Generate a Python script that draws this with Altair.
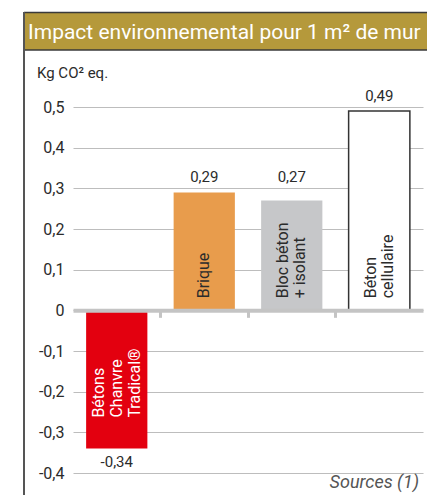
import altair as alt
import pandas as pd

# ---- data ----
names = ["Bétons Chanvre Tradical®", "Brique", "Bloc béton + isolant", "Béton cellulaire"]
label_lines = ["Bétons\nChanvre\nTradical®", "Brique", "Bloc béton\n+ isolant", "Béton\ncellulaire"]
values = [-0.34, 0.29, 0.27, 0.49]
y_ticks = [-0.4, -0.3, -0.2, -0.1, 0, 0.1, 0.2, 0.3, 0.4, 0.5]
title_text = "Impact environnemental pour 1 m² de mur"
unit_text = "Kg CO² eq."
source_text = "Sources (1)"

# ---- styles ----
bar_colors = ["#e3000f", "#e89c4c", "#c6c7c9", "#ffffff"]
FONT = "Roboto"
TXT = "#2b2b2b"
W, H = 350, 366
PAD = {"left": 65, "top": 99, "right": 4, "bottom": 22}

df = pd.DataFrame({"name": names, "label": label_lines, "value": values})

x_enc = alt.X(
    "name:N",
    sort=names,
    scale=alt.Scale(domain=names, paddingInner=0.3, paddingOuter=0.15),
    axis=alt.Axis(
        title=None, labels=False, values=names[1:], bandPosition=-0.214,
        tickSize=7, tickWidth=3, tickColor="#c4c4c4",
        domainColor="#c4c4c4", domainWidth=4, offset=-(H * 0.4 / 0.9), zindex=1,
    ),
)
y_scale = alt.Scale(domain=[-0.4, 0.5], nice=False, zero=False)
xn = alt.X("name:N", sort=names)

base = alt.Chart(df).transform_calculate(
    nlines="length(split(datum.label, '\\n'))"
)

bars = base.mark_bar().encode(
    x=x_enc,
    y=alt.Y(
        "value:Q", scale=y_scale,
        axis=alt.Axis(
            title=None, values=y_ticks, ticks=False, domain=False,
            labelExpr="datum.value == 0 ? '0' : replace(replace(format(datum.value, '.1f'), '.', ','), '−', '-')",
            gridColor="#bdbdbd", gridWidth=1, labelPadding=9,
            labelFontSize=16, labelColor=TXT, labelFont=FONT, zindex=0,
        ),
    ),
    color=alt.Color("name:N", scale=alt.Scale(domain=names, range=bar_colors), legend=None),
    stroke=alt.value("#333333"),
    strokeWidth=alt.condition(alt.datum.name == names[3], alt.value(1.5), alt.value(0)),
)

value_labels = base.transform_calculate(
    lab="replace(replace(format(datum.value, '.2f'), '.', ','), '−', '-')",
    ly="datum.value >= 0 ? ceil(datum.value * 10) / 10 : floor(datum.value * 10) / 10",
).mark_text(baseline="bottom", dy=-3, fontSize=15, color=TXT, font=FONT).encode(
    x=xn, y=alt.Y("ly:Q", scale=y_scale), text="lab:N",
)

LH = 17
cat_layers = []
for n in (1, 2):
    cat_layers.append(
        base.transform_filter(f"datum.value >= 0 && datum.nlines == {n}").mark_text(
            angle=270, align="left", baseline="middle", dx=12, dy=-(n - 1) * LH / 2,
            lineBreak="\n", lineHeight=LH, fontSize=16, color=TXT, font=FONT,
        ).encode(x=xn, y=alt.datum(0), text="label:N")
    )
cat_layers.append(
    base.transform_filter("datum.value < 0").mark_text(
        angle=270, align="left", baseline="middle", dx=31, dy=-18,
        lineBreak="\n", lineHeight=18, fontSize=16, color="#ffffff", font=FONT,
    ).encode(x=xn, y=alt.Y("value:Q", scale=y_scale), text="label:N")
)

deco = alt.Chart(alt.Data(values=[{"k": 1}]))
band = deco.mark_rect(color="#b5993b").encode(
    x=alt.value(-49), x2=alt.value(362), y=alt.value(-94), y2=alt.value(-57))
top_line = deco.mark_rule(color="#3a3a3a", strokeWidth=1.5).encode(
    x=alt.value(-49), x2=alt.value(362), y=alt.value(-94.5))
band_line = deco.mark_rule(color="#3a3a3a", strokeWidth=1.5).encode(
    x=alt.value(-49), x2=alt.value(362), y=alt.value(-57))
left_line = deco.mark_rule(color="#555555", strokeWidth=2).encode(
    x=alt.value(-49), y=alt.value(-95), y2=alt.value(400))
title = deco.mark_text(align="left", baseline="middle", fontSize=21, color="#ffffff", font=FONT).encode(
    x=alt.value(-45), y=alt.value(-74), text=alt.value(title_text))
unit = deco.mark_text(align="left", baseline="middle", fontSize=15, color=TXT, font=FONT).encode(
    x=alt.value(-36), y=alt.value(-34), text=alt.value(unit_text))
source = deco.mark_text(align="right", baseline="middle", fontSize=18, fontStyle="italic",
                        color="#555555", font=FONT).encode(
    x=alt.value(346), y=alt.value(376), text=alt.value(source_text))

chart = alt.layer(
    bars, value_labels, *cat_layers,
    band, top_line, band_line, left_line, title, unit, source,
).properties(
    width=W, height=H,
    padding=PAD,
    autosize=alt.AutoSizeParams(type="none"),
    background="#ffffff",
).configure_view(stroke=None)

chart.save("out.html", embed_options={"renderer": "svg", "actions": False})
